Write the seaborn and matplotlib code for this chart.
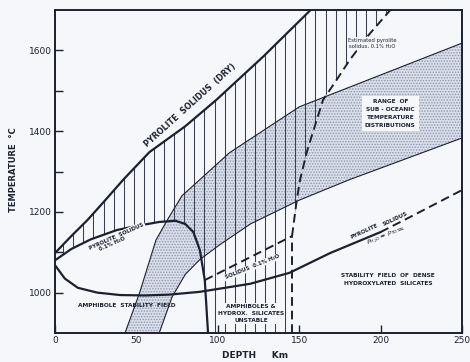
import numpy as np
import matplotlib
matplotlib.use("Agg")
import matplotlib.pyplot as plt
import seaborn as sns
from matplotlib.patches import Polygon

# --- curves (depth km, temperature C) ---
dry_depth = [0, 10, 20, 30, 42, 58, 80, 99, 128, 157]
dry_temp = [1098, 1140, 1180, 1225, 1280, 1348, 1412, 1477, 1585, 1700]

wet_depth = [0, 10, 22, 38, 50, 64, 74, 80, 85, 89, 92, 94]
wet_temp = [1080, 1108, 1132, 1155, 1165, 1175, 1178, 1170, 1150, 1105, 1031, 900]

amph_depth = [0, 6, 14, 26, 40, 55, 70, 89, 120, 144, 169, 200]
amph_temp = [1068, 1035, 1012, 1000, 994, 993, 995, 1002, 1022, 1049, 1098, 1150]
amph_ext_depth = [200, 218, 250]
amph_ext_temp = [1150, 1187, 1254]

band_hi_depth = [43, 52, 62, 69, 78, 89, 107, 150, 181, 250]
band_hi_temp = [900, 1000, 1130, 1180, 1240, 1280, 1346, 1460, 1509, 1618]
band_lo_depth = [64, 72, 80, 89, 101, 120, 150, 181, 250]
band_lo_temp = [900, 990, 1045, 1082, 1118, 1170, 1229, 1280, 1383]

est_depth = [145.6, 148.5, 150.5, 155, 164.6, 173, 181, 192, 206]
est_temp = [1140, 1229, 1279, 1353, 1477, 1527, 1576, 1635, 1700]

sol01_depth = [92, 120, 145.6]
sol01_temp = [1031, 1088, 1140]

vert_depth = [145.6, 145.6]
vert_temp = [900, 1140]

x_ticks = [0, 50, 100, 150, 200, 250]
y_ticks = [1000, 1200, 1400, 1600]
y_minor = [1100, 1300, 1500]

INK = "#1d2030"
BG = "#f6f7fa"
STIP = "#d9dfea"

sns.set_theme(style="ticks")
plt.rcParams["font.family"] = ["DejaVu Sans"]
plt.rcParams["mathtext.fontset"] = "dejavusans"
plt.rcParams["hatch.linewidth"] = 0.7

fig = plt.figure(figsize=(4.7, 3.62), dpi=100, facecolor=BG)
ax = fig.add_axes([55 / 470, 29 / 362, 407 / 470, 323 / 362])
ax.set_facecolor(BG)
ax.set_xlim(0, 250)
ax.set_ylim(900, 1700)

# stippled band of sub-oceanic geotherms
band = list(zip(band_hi_depth, band_hi_temp)) + list(zip(band_lo_depth[::-1], band_lo_temp[::-1]))
ax.add_patch(Polygon(band, closed=True, facecolor=STIP, edgecolor="#8f98ad",
                     hatch="......", linewidth=0, zorder=1))

# vertically ruled field between the solidi
outline = (list(zip(dry_depth, dry_temp)) + [(est_depth[-1], 1700)]
           + list(zip(est_depth[::-1], est_temp[::-1])) + [(145.6, 900), (94, 900)]
           + list(zip(wet_depth[::-1], wet_temp[::-1])))
clip = Polygon(outline, closed=True, facecolor="none", edgecolor="none")
ax.add_patch(clip)
rules = ax.vlines(np.arange(5, 210, 6.2), 900, 1700, color="#3a3e50", linewidth=0.75, zorder=2)
rules.set_clip_path(clip)

thick = dict(color=INK, linewidth=1.6, estimator=None, sort=False, ax=ax, zorder=3)
thin = dict(color=INK, linewidth=0.8, estimator=None, sort=False, ax=ax, zorder=3)
sns.lineplot(x=dry_depth, y=dry_temp, **thick)
sns.lineplot(x=wet_depth, y=wet_temp, **thick)
sns.lineplot(x=amph_depth, y=amph_temp, **thick)
sns.lineplot(x=band_hi_depth, y=band_hi_temp, **thin)
sns.lineplot(x=band_lo_depth, y=band_lo_temp, **thin)
for xs, ys in [(amph_ext_depth, amph_ext_temp), (est_depth, est_temp),
               (sol01_depth, sol01_temp), (vert_depth, vert_temp)]:
    ax.plot(xs, ys, color=INK, linewidth=1.4, dashes=(4.5, 2.5), zorder=3)

box = dict(facecolor=BG, edgecolor="none", pad=0.6)
lab = dict(color=INK, fontweight="bold", ha="center", va="center", zorder=4)
ax.text(83, 1464, "PYROLITE  SOLIDUS  (DRY)", fontsize=5.8, rotation=42, **lab)
ax.text(38, 1140, "PYROLITE  SOLIDUS", fontsize=3.9, rotation=24, bbox=box, **lab)
ax.text(35, 1121, "0.1% H₂O", fontsize=3.9, rotation=24, **lab)
ax.text(121, 1063, "SOLIDUS  0.1% H₂O", fontsize=3.9, rotation=22, bbox=box, **lab)
ax.text(44, 969, "AMPHIBOLE  STABILITY  FIELD", fontsize=4.2, **lab)
ax.text(120.5, 948, "AMPHIBOLES &\nHYDROX.  SILICATES\nUNSTABLE", fontsize=4.2,
        linespacing=1.5, bbox=box, **lab)
ax.text(195, 1617, "Estimated pyrolite\nsolidus, 0.1% H₂O", fontsize=3.8, linespacing=1.2,
        bbox=box, color=INK, ha="center", va="center", zorder=4)
ax.text(206, 1443, "RANGE  OF\n\nSUB - OCEANIC\n\nTEMPERATURE\n\nDISTRIBUTIONS", fontsize=4.2,
        linespacing=0.75, bbox=dict(facecolor=BG, edgecolor="none", pad=2), **lab)
ax.text(190, 1152, "PYROLITE", fontsize=4.0, rotation=25, **lab)
ax.text(209, 1183, "SOLIDUS", fontsize=4.0, rotation=25, **lab)
ax.text(204, 1141, r"$P_{H_2O}$ = $P_{TOTAL}$", fontsize=4.5, rotation=22, **lab)
ax.text(204.5, 1033, "STABILITY  FIELD  OF  DENSE\n\nHYDROXYLATED  SILICATES", fontsize=4.2,
        linespacing=0.75, **lab)

ax.set_xticks(x_ticks)
ax.set_yticks(y_ticks)
ax.set_yticks(y_minor, minor=True)
ax.tick_params(which="both", direction="in", color=INK, width=1.0, labelsize=6.5,
               labelcolor=INK, pad=2, length=6)
for s in ax.spines.values():
    s.set_color(INK)
    s.set_linewidth(1.4)
ax.set_xlabel("")
ax.set_ylabel("")
fig.text(255 / 470, 1 - 356 / 362, "DEPTH     Km", fontsize=6.5, fontweight="bold",
         color=INK, ha="center", va="center")
fig.text(14 / 470, 1 - 170 / 362, "TEMPERATURE  °C", fontsize=6, fontweight="bold",
         color=INK, ha="center", va="center", rotation=90)

fig.savefig("out.png", dpi=100, facecolor=BG)
